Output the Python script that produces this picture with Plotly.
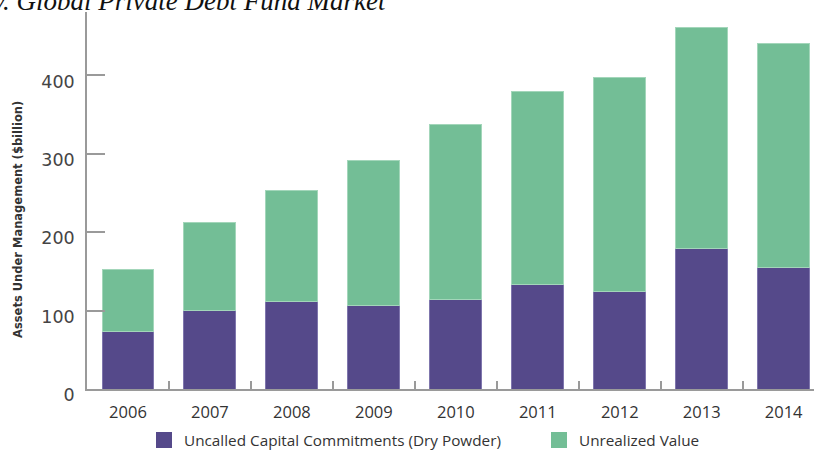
import plotly.graph_objects as go

years = ["2006", "2007", "2008", "2009", "2010", "2011", "2012", "2013", "2014"]
dry_powder = [73, 100, 112, 106, 114, 133, 124, 179, 155]
unrealized = [79, 113, 141, 185, 223, 247, 273, 282, 286]
series_names = ["Uncalled Capital Commitments (Dry Powder)", "Unrealized Value"]
y_ticks = [0, 100, 200, 300, 400]

PURPLE = "#55498a"
GREEN = "#73be96"

W, H = 814, 450
L, T, B, R = 87, 12, 61, 0
pw, ph = W - L - R, H - T - B

def px_x(p):
    return (p - L) / pw

def px_y(p):
    return (H - B - p) / ph

fig = go.Figure()
fig.add_trace(go.Bar(x=years, y=dry_powder, name=series_names[0], showlegend=False,
                     marker=dict(color=PURPLE, line=dict(color="#7f76ad", width=1))))
fig.add_trace(go.Bar(x=years, y=unrealized, name=series_names[1], showlegend=False,
                     marker=dict(color=GREEN, line=dict(color="#a3d6ba", width=1))))
# legend entries (one legend box per entry, for placement)
for nm, col, lg in zip(series_names, [PURPLE, GREEN], ["legend", "legend2"]):
    fig.add_trace(go.Scatter(x=[None], y=[None], mode="markers", name=nm, legend=lg,
                             marker=dict(symbol="square", size=16, color=col)))

leg_common = dict(orientation="h", xanchor="left", y=px_y(440), yanchor="middle",
                  itemsizing="trace",
                  font=dict(family="Open Sans", size=15.3, color="#333333"),
                  bgcolor="rgba(0,0,0,0)", borderwidth=0)

fig.update_layout(
    width=W, height=H,
    margin=dict(l=L, r=R, t=T, b=B, pad=0, autoexpand=False),
    barmode="stack", bargap=0.366,
    plot_bgcolor="white", paper_bgcolor="white",
    showlegend=True,
    legend=dict(x=px_x(144), **leg_common),
    legend2=dict(x=px_x(539), **leg_common),
    xaxis=dict(type="category", range=[-0.5, 8.37], showgrid=False, zeroline=False,
               showline=True, linecolor="#9a9a9a", linewidth=1.5,
               ticks="inside", tickson="boundaries", ticklen=8, tickwidth=1.5, tickcolor="#9a9a9a",
               tickfont=dict(family="Open Sans", size=16.5, color="#333333"),
               ticklabelstandoff=7),
    yaxis=dict(range=[0, 481], tickvals=y_ticks, showgrid=False, zeroline=False,
               showline=True, linecolor="#9a9a9a", linewidth=1.5,
               ticks="inside", ticklen=18, tickwidth=1.5, tickcolor="#9a9a9a",
               tickfont=dict(family="DejaVu Sans", size=17.5, color="#444444"),
               ticklabelshift=6, ticklabelstandoff=7),
    annotations=[
        dict(text="<i>v. Global Private Debt Fund Market</i>", xref="paper", yref="paper",
             x=px_x(-9), xanchor="left", y=px_y(18), yanchor="bottom", showarrow=False,
             font=dict(family="Liberation Serif", size=27, color="#111111")),
        dict(text="<b>Assets Under Management ($billion)</b>", xref="paper", yref="paper",
             x=px_x(18), xanchor="center", y=px_y(220), yanchor="middle", textangle=-90,
             showarrow=False, font=dict(family="DejaVu Sans", size=11.5, color="#333333")),
    ],
)

fig.write_html("out.html", config={"displayModeBar": False},
               post_script="document.body.style.margin='0';")
